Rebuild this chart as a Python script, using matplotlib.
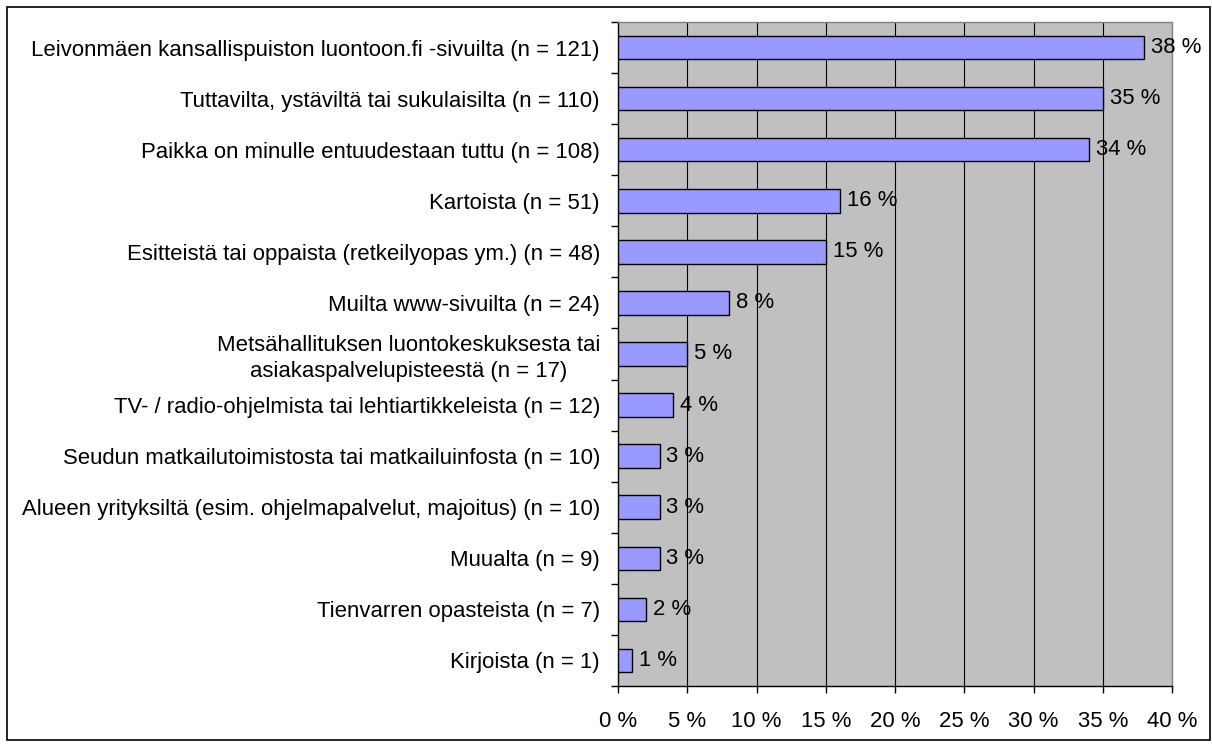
import matplotlib.pyplot as plt
import numpy as np
from matplotlib.patches import Rectangle

plt.rcParams['font.family'] = ['Liberation Sans', 'DejaVu Sans']

categories = [
    'Leivonmäen kansallispuiston luontoon.fi -sivuilta (n = 121)',
    'Tuttavilta, ystäviltä tai sukulaisilta (n = 110)',
    'Paikka on minulle entuudestaan tuttu (n = 108)',
    'Kartoista (n = 51)',
    'Esitteistä tai oppaista (retkeilyopas ym.) (n = 48)',
    'Muilta www-sivuilta (n = 24)',
    'Metsähallituksen luontokeskuksesta tai\nasiakaspalvelupisteestä (n = 17)',
    'TV- / radio-ohjelmista tai lehtiartikkeleista (n = 12)',
    'Seudun matkailutoimistosta tai matkailuinfosta (n = 10)',
    'Alueen yrityksiltä (esim. ohjelmapalvelut, majoitus) (n = 10)',
    'Muualta (n = 9)',
    'Tienvarren opasteista (n = 7)',
    'Kirjoista (n = 1)',
]
percent = [38, 35, 34, 16, 15, 8, 5, 4, 3, 3, 3, 2, 1]
xticks = [0, 5, 10, 15, 20, 25, 30, 35, 40]

FS = 15.9

fig = plt.figure(figsize=(12.12, 7.46), dpi=100)
ax = fig.add_axes([618/1212, 1-686/746, (1172-618)/1212, (686-22)/746])
ax.set_facecolor('#C0C0C0')

y = np.arange(len(categories))
ax.barh(y, percent, height=0.46, color='#9999FF', edgecolor='black', linewidth=1.0, zorder=3)

for yi, v in zip(y, percent):
    ax.annotate(f'{v} %', (v, yi), xytext=(5, 0), textcoords='offset points',
                ha='left', va='center', fontsize=FS, zorder=4)

ax.set_xlim(0, 40)
ax.set_ylim(len(categories) - 0.5, -0.5)
ax.set_xticks(xticks)
ax.set_xticklabels([f'{t} %' for t in xticks], fontsize=FS)
ax.set_yticks(y)
ax.set_yticklabels(categories, fontsize=FS, multialignment='center', linespacing=1.3)
ax.set_yticks(np.arange(-0.5, len(categories), 1), minor=True)
ax.tick_params(axis='y', which='major', length=0, pad=13)
ax.tick_params(axis='y', which='minor', length=5, direction='out', width=1)
ax.tick_params(axis='x', length=5, direction='out', width=1, pad=13)

for t in xticks[1:-1]:
    ax.axvline(t, color='black', linewidth=0.8, zorder=1)

ax.spines['left'].set_color('black')
ax.spines['bottom'].set_color('black')
ax.spines['top'].set_color('#808080')
ax.spines['right'].set_color('#808080')
for s in ax.spines.values():
    s.set_linewidth(1.0)

fig.patches.append(Rectangle((7/1212, 1-740/746), (1210-7)/1212, (740-7)/746,
                             transform=fig.transFigure, fill=False,
                             edgecolor='black', linewidth=1.2))

fig.savefig('out.png', dpi=100)
